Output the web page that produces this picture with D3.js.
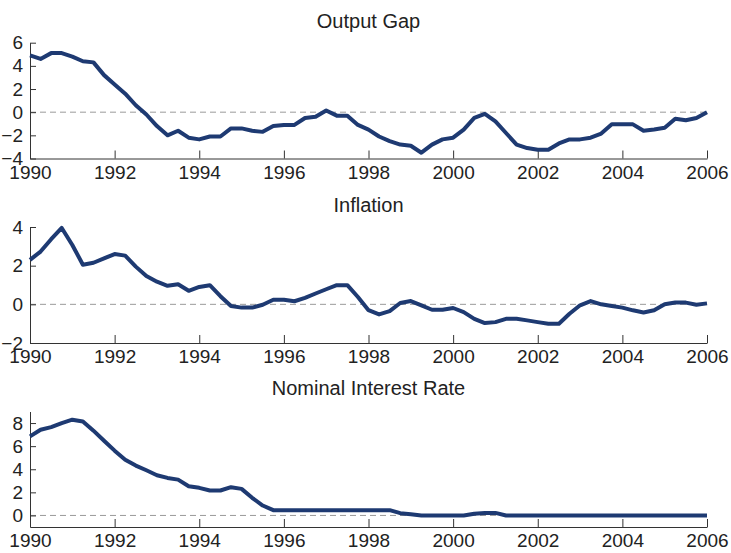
<!DOCTYPE html>
<html>
<head>
<meta charset="utf-8">
<script src="https://cdn.jsdelivr.net/npm/d3@7"></script>
<style>
  html, body { margin: 0; padding: 0; background: #ffffff; }
  svg { display: block; }
  text { font-family: "Liberation Sans", Arial, Helvetica, sans-serif; fill: #222; }
</style>
</head>
<body>
<svg id="chart" width="731" height="553"></svg>
<script>
// ---- Data (quarterly, 1990Q1 .. 2006Q1) ----
const startYear = 1990;
const nQuarters = 65;
const dates = d3.range(nQuarters).map(i => startYear + i / 4);

const outputGap = [
  4.9, 4.6, 5.1, 5.1,  4.8, 4.4, 4.3, 3.2,  2.4, 1.6, 0.6, -0.2,
  -1.2, -2.0, -1.6, -2.2,  -2.35, -2.1, -2.1, -1.4,  -1.4, -1.6, -1.7, -1.2,
  -1.1, -1.1, -0.5, -0.4,  0.15, -0.3, -0.3, -1.1,  -1.5, -2.1, -2.5, -2.8,
  -2.9, -3.5, -2.8, -2.35,  -2.2, -1.5, -0.5, -0.15,  -0.8, -1.8, -2.8, -3.1,
  -3.25, -3.25, -2.7, -2.35,  -2.35, -2.2, -1.85, -1.05,  -1.05, -1.05, -1.6, -1.5,
  -1.35, -0.57, -0.7, -0.5,  0.0
];

const inflation = [
  2.3, 2.73, 3.37, 3.95,  3.07, 2.05, 2.15, 2.38,  2.6, 2.52, 1.95, 1.46,
  1.17, 0.96, 1.04, 0.7,  0.9, 0.99, 0.42, -0.09,  -0.17, -0.17, -0.02, 0.24,
  0.24, 0.16, 0.33, 0.56,  0.78, 0.99, 0.99, 0.38,  -0.3, -0.52, -0.35, 0.07,
  0.17, -0.05, -0.28, -0.28,  -0.19, -0.4, -0.75, -0.97,  -0.92, -0.75, -0.75, -0.83,
  -0.92, -1.0, -1.0, -0.49,  -0.05, 0.17, 0.0, -0.09,  -0.17, -0.31, -0.42, -0.31,
  0.0, 0.09, 0.09, -0.02,  0.05
];

const interestRate = [
  6.85, 7.42, 7.65, 8.0,  8.29, 8.14, 7.34, 6.47,  5.61, 4.83, 4.32, 3.91,
  3.48, 3.25, 3.1, 2.53,  2.39, 2.16, 2.16, 2.45,  2.3, 1.53, 0.86, 0.46,
  0.46, 0.46, 0.46, 0.46,  0.46, 0.46, 0.46, 0.46,  0.46, 0.46, 0.46, 0.2,
  0.1, 0.0, 0.0, 0.0,  0.0, 0.0, 0.15, 0.22,  0.22, 0.0, 0.0, 0.0,
  0.0, 0.0, 0.0, 0.0,  0.0, 0.0, 0.0, 0.0,  0.0, 0.0, 0.0, 0.0,
  0.0, 0.0, 0.0, 0.0,  0.0
];

const xTicks = [1990, 1992, 1994, 1996, 1998, 2000, 2002, 2004, 2006];

const panels = [
  { title: "Output Gap", values: outputGap, domain: [-4, 6], yTicks: [-4, -2, 0, 2, 4, 6],
    top: 42.7, bottom: 158.5, titleY: 27.5 },
  { title: "Inflation", values: inflation, domain: [-2, 4], yTicks: [-2, 0, 2, 4],
    top: 227, bottom: 343, titleY: 211.5 },
  { title: "Nominal Interest Rate", values: interestRate, domain: [-1, 9], yTicks: [0, 2, 4, 6, 8],
    top: 411.5, bottom: 527, titleY: 395 }
];

// ---- Drawing ----
const svg = d3.select("#chart");
const left = 30, right = 707;
const lineColor = "#1e3a72";
const axisColor = "#333";
const fontSize = 19;

const x = d3.scaleLinear().domain([1990, 2006]).range([left, right]);

panels.forEach(p => {
  const y = d3.scaleLinear().domain(p.domain).range([p.bottom, p.top]);
  const g = svg.append("g");

  // title
  g.append("text")
    .attr("x", (left + right) / 2)
    .attr("y", p.titleY)
    .attr("text-anchor", "middle")
    .style("font-size", "20px")
    .text(p.title);

  // zero reference line
  g.append("line")
    .attr("x1", x(1990)).attr("x2", x(2006))
    .attr("y1", y(0)).attr("y2", y(0))
    .attr("stroke", "#9a9a9a")
    .attr("stroke-width", 1)
    .attr("stroke-dasharray", "6,4");

  // x axis
  const xAxis = d3.axisBottom(x)
    .tickValues(xTicks)
    .tickFormat(d3.format("d"))
    .tickSizeInner(-8)
    .tickSizeOuter(0)
    .tickPadding(7);
  const gx = g.append("g")
    .attr("transform", `translate(0,${p.bottom})`)
    .call(xAxis);
  gx.select(".domain").attr("stroke", axisColor);
  gx.selectAll(".tick line").attr("stroke", axisColor);
  gx.selectAll("text")
    .style("font-size", fontSize + "px")
    .attr("font-family", null)
    .attr("fill", "#222");

  // y axis
  const yAxis = d3.axisLeft(y)
    .tickValues(p.yTicks)
    .tickFormat(d3.format("d"))
    .tickSizeInner(-6)
    .tickSizeOuter(0)
    .tickPadding(7);
  const gy = g.append("g")
    .attr("transform", `translate(${left},0)`)
    .call(yAxis);
  gy.select(".domain").attr("stroke", axisColor);
  gy.selectAll(".tick line").attr("stroke", axisColor);
  gy.selectAll("text")
    .style("font-size", fontSize + "px")
    .attr("font-family", null)
    .attr("fill", "#222");

  // series line
  const line = d3.line()
    .x((d, i) => x(dates[i]))
    .y(d => y(d));
  g.append("path")
    .datum(p.values)
    .attr("fill", "none")
    .attr("stroke", lineColor)
    .attr("stroke-width", 4)
    .attr("stroke-linejoin", "round")
    .attr("stroke-linecap", "butt")
    .attr("d", line);
});
</script>
</body>
</html>
